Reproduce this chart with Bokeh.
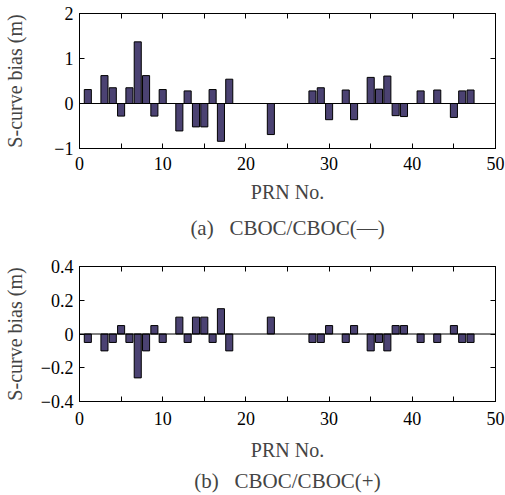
from bokeh.plotting import figure
from bokeh.layouts import column
from bokeh.models import Range1d, FixedTicker, LinearAxis, Span, Title
from bokeh.embed import file_html
from bokeh.resources import INLINE

prn = [1, 3, 4, 5, 6, 7, 8, 9, 10, 12, 13, 14, 15, 16, 17, 18, 23, 28, 29, 30,
       32, 33, 35, 36, 37, 38, 39, 41, 43, 45, 46, 47]
bias_minus = [0.31, 0.62, 0.35, -0.28, 0.35, 1.37, 0.62, -0.28, 0.31, -0.61, 0.28,
              -0.52, -0.52, 0.31, -0.84, 0.54, -0.69, 0.28, 0.35, -0.36, 0.30, -0.36,
              0.58, 0.32, 0.61, -0.27, -0.29, 0.28, 0.30, -0.31, 0.28, 0.30]
bias_plus = [-0.05, -0.10, -0.05, 0.05, -0.05, -0.26, -0.10, 0.05, -0.05, 0.10, -0.05,
             0.10, 0.10, -0.05, 0.15, -0.10, 0.10, -0.05, -0.05, 0.05, -0.05, 0.05,
             -0.10, -0.05, -0.10, 0.05, 0.05, -0.05, -0.05, 0.05, -0.05, -0.05]

x_major = [0, 10, 20, 30, 40, 50]
x_minor = [5, 15, 25, 35, 45]
x_all = [0, 5, 10, 15, 20, 25, 30, 35, 40, 45, 50]
y_ticks_a = [-1, 0, 1, 2]
y_labels_a = {-1: "\u22121", 0: "0", 1: "1", 2: "2"}
y_ticks_b = [-0.4, -0.2, 0, 0.2, 0.4]
y_labels_b = {-0.4: "\u22120.4", -0.2: "\u22120.2", 0: "0", 0.2: "0.2", 0.4: "0.4"}
caption_a = "(a)\u00a0\u00a0\u00a0CBOC/CBOC(\u2014)"
caption_b = "(b)\u00a0\u00a0\u00a0CBOC/CBOC(+)"

FONT = "Liberation Serif"
BAR = "#4b4272"


def base_axis(ax):
    ax.axis_line_color = "black"
    ax.axis_line_width = 1
    ax.major_tick_in = 5
    ax.major_tick_out = 0
    ax.minor_tick_in = 5
    ax.minor_tick_out = 0
    ax.major_tick_line_color = "black"
    ax.minor_tick_line_color = "black"


def make_panel(values, yr, yticks, ylabels, caption, border_top, height,
               border_bottom, ylab_standoff, tick_standoff, xlab_standoff, cap_standoff):
    p = figure(width=505, height=height,
               x_range=Range1d(0, 50), y_range=Range1d(*yr),
               output_backend="svg", toolbar_location=None,
               min_border_left=78, min_border_right=10,
               min_border_top=border_top, min_border_bottom=border_bottom,
               x_axis_location=None, y_axis_location=None)
    p.grid.visible = False
    p.outline_line_color = "black"
    p.background_fill_color = "white"

    bottom = LinearAxis(axis_label="PRN No.")
    base_axis(bottom)
    bottom.ticker = FixedTicker(ticks=x_major, minor_ticks=x_minor)
    bottom.major_label_text_font = FONT
    bottom.major_label_text_font_size = "18px"
    bottom.major_label_text_color = "black"
    bottom.major_label_standoff = tick_standoff
    bottom.axis_label_text_font = FONT
    bottom.axis_label_text_font_size = "20px"
    bottom.axis_label_text_font_style = "normal"
    bottom.axis_label_standoff = xlab_standoff
    p.add_layout(bottom, "below")

    left = LinearAxis(axis_label="S-curve bias (m)")
    base_axis(left)
    left.ticker = FixedTicker(ticks=yticks)
    left.major_label_overrides = ylabels
    left.major_label_text_font = FONT
    left.major_label_text_font_size = "18px"
    left.major_label_text_color = "black"
    left.major_label_standoff = 6
    left.axis_label_text_font = FONT
    left.axis_label_text_font_size = "20px"
    left.axis_label_text_font_style = "normal"
    left.axis_label_standoff = ylab_standoff
    p.add_layout(left, "left")

    top = LinearAxis()
    base_axis(top)
    top.ticker = FixedTicker(ticks=[], minor_ticks=x_all)
    top.major_label_standoff = 0
    p.add_layout(top, "above")

    right = LinearAxis()
    base_axis(right)
    right.ticker = FixedTicker(ticks=[], minor_ticks=yticks)
    right.major_label_standoff = 0
    p.add_layout(right, "right")

    p.vbar(x=prn, top=values, bottom=0, width=0.85,
           fill_color=BAR, line_color="black", line_width=1)
    p.add_layout(Span(location=0, dimension="width", line_color="black", line_width=1))

    t = Title(text=caption, align="center", text_font=FONT,
              text_font_size="21px", text_font_style="normal", standoff=cap_standoff)
    p.add_layout(t, "below")
    return p


p1 = make_panel(bias_minus, (-1, 2), y_ticks_a, y_labels_a, caption_a,
                13, 248, 100, 25, 8, 8, 17)
p2 = make_panel(bias_plus, (-0.4, 0.4), y_ticks_b, y_labels_b, caption_b,
                18, 247, 93, 12, 10, 11, 6)

layout = column(p1, p2, spacing=0)
open("out.html", "w").write(file_html(layout, INLINE))
